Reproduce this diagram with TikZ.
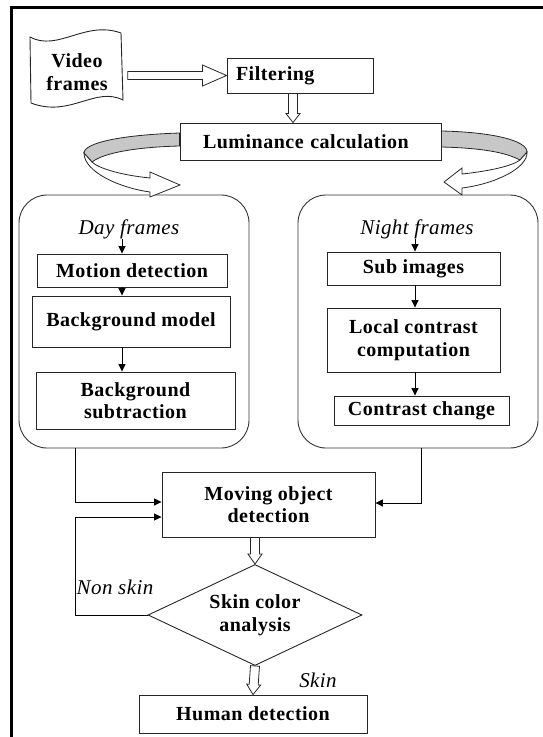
\documentclass[tikz,border=0pt]{standalone}
\usepackage{fontspec}
\setmainfont{Liberation Serif}
\newfontfamily\boxfont[LetterSpace=2.5]{Liberation Serif}
\newfontfamily\labfont[LetterSpace=2]{Liberation Serif}
\usetikzlibrary{shapes.geometric,arrows.meta,calc}
\newcommand\bxf{\boxfont\bfseries\fontsize{20}{22.5}\selectfont}
\newcommand\itf{\labfont\itshape\fontsize{21}{23}\selectfont}
\newcommand\hollowarrow[5]{%
  \path let \p1=(#4), \p2=(#5) in \pgfextra{%
    \pgfmathsetmacro\hallen{veclen(\x2-\x1,\y2-\y1)}%
    \pgfmathsetmacro\hangle{atan2(\y2-\y1,\x2-\x1)}%
    \xdef\halg{\hallen}\xdef\hang{\hangle}\xdef\hax{\x1}\xdef\hay{\y1}};
  \draw[hollow, shift={(\hax,\hay)}, rotate=\hang]
    (0pt,-#1pt) -- (\halg pt-#3pt,-#1pt) -- (\halg pt-#3pt,-#2pt) -- (\halg pt,0pt)
    -- (\halg pt-#3pt,#2pt) -- (\halg pt-#3pt,#1pt) -- (0pt,#1pt) -- cycle;}
\begin{document}
\begin{tikzpicture}[x=1pt,y=-1pt,
  box/.style={draw=black!85, line width=0.9pt, font=\bxf, align=center, inner sep=0pt},
  rbox/.style={draw=black!80, line width=0.9pt, rounded corners=28pt, inner sep=0pt},
  lab/.style={font=\itf, inner sep=0pt},
  arr/.style={-{Triangle[length=7.5pt,width=7pt]}, line width=0.8pt},
  hollow/.style={draw=black!85, fill=white, line width=0.8pt},
  ribbon/.style={draw=black!85, line width=0.8pt}]
\useasboundingbox (0,0) rectangle (543,737);
% frame
\draw[line width=2.6pt] (11.3,737) -- (11.3,7.5) -- (543,7.5);

% video frames (tape)
\draw[line width=0.9pt, draw=black!85] (30,37) .. controls (58,52) and (85,20) .. (121,33)
  -- (123,100) .. controls (95,86) and (70,118) .. (31,103) -- cycle;
\node[font=\bxf, align=center, inner sep=0pt, minimum width=93pt, minimum height=66pt] (vf) at (77,72) {Video\\frames};

\node[box, minimum width=146pt, minimum height=35pt, text width=128pt, align=left] (filt) at (300,75.5) {Filtering};
\node[box, minimum width=261pt, minimum height=37pt, text width=215pt, align=left] (lum) at (310.5,141.5) {Luminance calculation};

% day / night containers
\node[rbox, minimum width=230pt, minimum height=253pt] (day) at (134,321.5) {};
\node[rbox, minimum width=240pt, minimum height=253pt] (night) at (418,321.5) {};

\node[lab] (dayl) at (129,229) {Day frames};
\node[lab] (nightl) at (417,229) {Night frames};

\node[box, minimum width=190pt, minimum height=33pt] (mot) at (132,270.5) {Motion detection};
\node[box, minimum width=198pt, minimum height=51pt] (bgm) at (131,321.5) {Background model};
\node[box, minimum width=199pt, minimum height=57pt] (bgs) at (135.5,400.5) {Background\\subtraction};

\node[box, minimum width=173pt, minimum height=33pt] (sub) at (413.5,268.5) {Sub images};
\node[box, minimum width=173pt, minimum height=64pt] (loc) at (413.5,340) {Local contrast\\computation};
\node[box, minimum width=175pt, minimum height=29pt] (cc) at (421.5,410.5) {Contrast change};

\node[box, minimum width=213pt, minimum height=65pt] (mov) at (268.5,504.5) {Moving object\\detection};
\node[box, shape=diamond, aspect=2.12, inner sep=1pt, minimum width=214pt, minimum height=101pt] (dia) at (255,615) {Skin color\\analysis};
\node[box, minimum width=228pt, minimum height=38pt] (hum) at (253,714) {Human detection};

\node[lab] (nonskin) at (115,587) {Non skin};
\node[lab] (skin) at (318,680) {Skin};

% helper x positions
\coordinate (dx) at (122,0);
\coordinate (nx) at (415,0);
\coordinate (lx) at (75,0);
\coordinate (fx) at (293,0);

% inner arrows
\draw[arr] (dayl.south -| dx) -- (mot.north -| dx);
\draw[arr] (mot.south -| dx) -- (bgm.north -| dx);
\draw[arr] (bgm.south -| dx) -- (bgs.north -| dx);
\draw[arr] (nightl.south -| nx) -- (sub.north -| nx);
\draw[arr] (sub.south -| nx) -- (loc.north -| nx);
\draw[arr] (loc.south -| nx) -- (cc.north -| nx);

% to moving object detection
\draw[arr] (day.south -| lx) |- ($(mov.west)+(0,-2.5)$);
\draw[arr] ($(night.south)+(3,0)$) |- ($(mov.east)+(0,-1.5)$);
\draw[arr] (dia.west) -- (dia.west -| lx) |- ($(mov.west)+(0,12.5)$);

% hollow arrows
\hollowarrow{4}{10.5}{24}{$(vf.east |- filt.west)+(4,0)$}{filt.west}
\hollowarrow{4.5}{7}{9}{filt.south -| fx}{lum.north -| fx}
\hollowarrow{4.5}{7}{10}{mov.south -| dia.north}{dia.north}
\hollowarrow{4.5}{7}{10}{dia.south}{hum.north}

% ribbon arrows
\draw[ribbon, fill=black!22] (lum.west |- 0,133) .. controls (120,135) and (84,143) .. (84,153)
  -- (92,162) .. controls (105,152) and (140,147) .. (lum.west |- 0,146) -- cycle;
\draw[ribbon, fill=white] (84,153) .. controls (84,172) and (120,188) .. (150,192)
  -- (150,197) -- (180,185) -- (150,172) -- (150,178)
  .. controls (120,175) and (98,168) .. (92,162) -- cycle;
\draw[ribbon, fill=black!22] (lum.east |- 0,131) .. controls (490,132) and (527,140) .. (527,152)
  -- (520,160) .. controls (505,152) and (480,148) .. (lum.east |- 0,147) -- cycle;
\draw[ribbon, fill=white] (527,152) .. controls (528,168) and (495,184) .. (462,188)
  -- (462,195) -- (444,182) -- (462,168) -- (462,174)
  .. controls (490,171) and (512,166) .. (520,160) -- cycle;
\end{tikzpicture}
\end{document}
